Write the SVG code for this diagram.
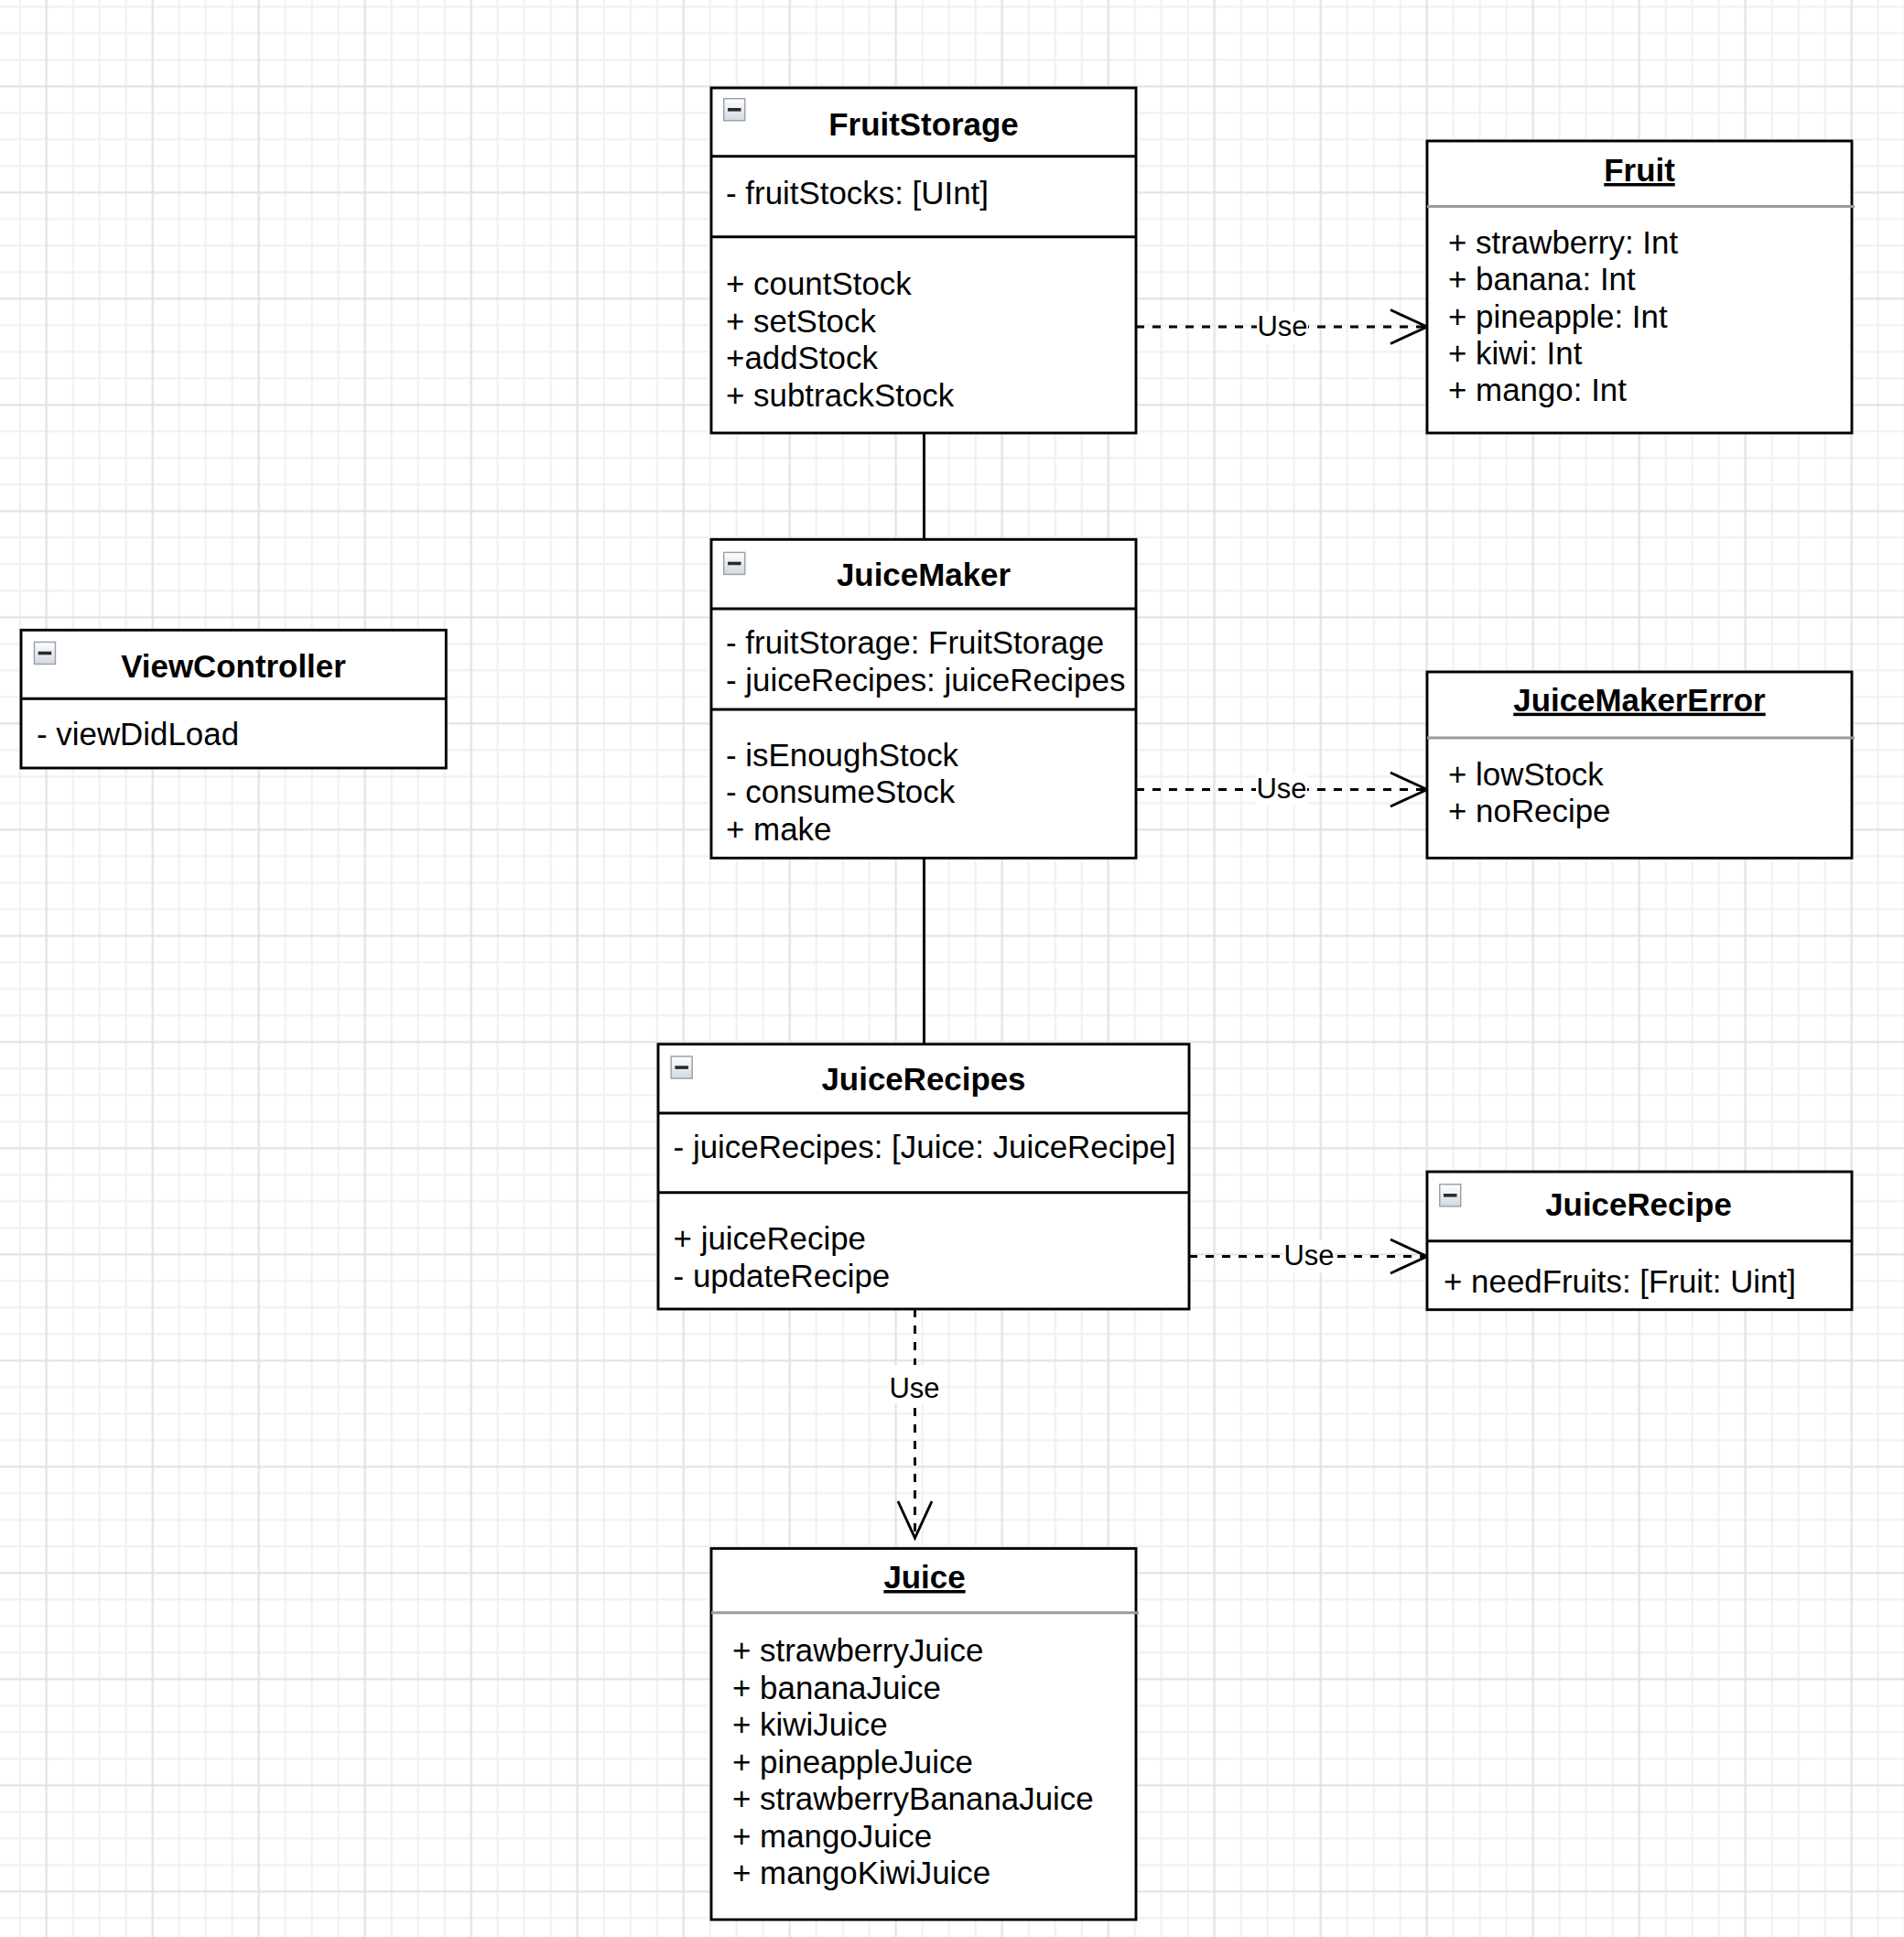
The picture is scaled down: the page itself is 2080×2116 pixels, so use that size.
<svg xmlns="http://www.w3.org/2000/svg" width="2080" height="2116" viewBox="0 0 2080 2116">
<style>
.box{fill:#fff;stroke:#000;stroke-width:2.9}
.div{stroke:#000;stroke-width:2.9}
.gdiv{stroke:#9b9b9b;stroke-width:3}
.t{font-family:"Liberation Sans",Arial,Helvetica,sans-serif;font-size:34.9px;fill:#000}
.b{font-weight:bold;text-anchor:middle}
.u{text-decoration:underline}
.edge{fill:none;stroke:#000;stroke-width:2.9}
.dash{stroke-dasharray:9 9}
.lbl{font-family:"Liberation Sans",Arial,Helvetica,sans-serif;font-size:31px;text-anchor:middle;fill:#000}
.lblbg{fill:#fff}
</style>
<defs>
<pattern id="grid" patternUnits="userSpaceOnUse" x="36.2" y="79.8" width="116" height="116">
<path d="M43.5 0V116M72.5 0V116M101.5 0V116M0 43.5H116M0 72.5H116M0 101.5H116" stroke="#efefef" stroke-width="2" fill="none"/>
<path d="M14.5 0V116M0 14.5H116" stroke="#e0e0e0" stroke-width="2" fill="none"/>
</pattern>
<linearGradient id="icg" x1="0" y1="0" x2="0" y2="1">
<stop offset="0" stop-color="#ffffff"/>
<stop offset="1" stop-color="#d3d9e0"/>
</linearGradient>
<g id="collapse">
<rect x="0.75" y="0.75" width="23" height="24" fill="url(#icg)" stroke="#9aa4b0" stroke-width="1.5"/>
<rect x="5" y="11" width="14.5" height="3.6" fill="#2b2b2b"/>
</g>
<marker id="open" markerUnits="userSpaceOnUse" viewBox="-44 -22 48 44" markerWidth="48" markerHeight="44" refX="0" refY="0" orient="auto">
<path d="M-40,-18.5 L0,0 L-40,18.5" fill="none" stroke="#000" stroke-width="2.9"/>
</marker>
</defs>
<rect x="0" y="0" width="2080" height="2116" fill="#fff"/>
<rect x="0" y="0" width="2080" height="2116" fill="url(#grid)"/>

<g id="connectors">
<line class="edge" x1="1009.5" y1="473" x2="1009.5" y2="589"/>
<line class="edge" x1="1009.5" y1="937" x2="1009.5" y2="1141"/>
<line class="edge dash" x1="1241" y1="357" x2="1559" y2="357" marker-end="url(#open)"/>
<line class="edge dash" x1="1241" y1="862.5" x2="1559" y2="862.5" marker-end="url(#open)"/>
<line class="edge dash" x1="1299" y1="1372.5" x2="1559" y2="1372.5" marker-end="url(#open)"/>
<line class="edge dash" x1="999.5" y1="1430" x2="999.5" y2="1680" marker-end="url(#open)"/>
<rect class="lblbg" x="1373" y="340" width="56" height="35"/>
<text class="lbl" x="1401" y="367">Use</text>
<rect class="lblbg" x="1372" y="845" width="56" height="35"/>
<text class="lbl" x="1400" y="872">Use</text>
<rect class="lblbg" x="1402" y="1355" width="56" height="35"/>
<text class="lbl" x="1430" y="1382">Use</text>
<rect class="lblbg" x="969" y="1491" width="60" height="42"/>
<text class="lbl" x="999" y="1527">Use</text>
</g>

<g id="FruitStorage">
<rect class="box" x="777" y="96" width="464" height="377"/>
<line class="div" x1="777" y1="170.7" x2="1241" y2="170.7"/>
<line class="div" x1="777" y1="258.7" x2="1241" y2="258.7"/>
<use href="#collapse" x="790" y="107"/>
<text class="t b" x="1009" y="148.3">FruitStorage</text>
<text class="t" x="793" y="222.7">- fruitStocks: [UInt]</text>
<text class="t" x="793" y="322">+ countStock</text>
<text class="t" x="793" y="362.5">+ setStock</text>
<text class="t" x="793" y="403">+addStock</text>
<text class="t" x="793" y="443.5">+ subtrackStock</text>
</g>

<g id="Fruit">
<rect class="box" x="1559" y="154" width="464" height="319"/>
<line class="gdiv" x1="1559" y1="225.5" x2="2026" y2="225.5"/>
<text class="t b u" x="1791" y="198">Fruit</text>
<text class="t" x="1582" y="277">+ strawberry: Int</text>
<text class="t" x="1582" y="317">+ banana: Int</text>
<text class="t" x="1582" y="358">+ pineapple: Int</text>
<text class="t" x="1582" y="398">+ kiwi: Int</text>
<text class="t" x="1582" y="438">+ mango: Int</text>
</g>

<g id="ViewController">
<rect class="box" x="23" y="688.3" width="464.3" height="150.7"/>
<line class="div" x1="23" y1="763.3" x2="487.3" y2="763.3"/>
<use href="#collapse" x="36.7" y="700.7"/>
<text class="t b" x="255" y="740">ViewController</text>
<text class="t" x="40" y="814">- viewDidLoad</text>
</g>

<g id="JuiceMaker">
<rect class="box" x="777" y="589.3" width="464" height="348"/>
<line class="div" x1="777" y1="665" x2="1241" y2="665"/>
<line class="div" x1="777" y1="775" x2="1241" y2="775"/>
<use href="#collapse" x="790" y="602.7"/>
<text class="t b" x="1009" y="640">JuiceMaker</text>
<text class="t" x="793" y="714">- fruitStorage: FruitStorage</text>
<text class="t" x="793" y="754.5">- juiceRecipes: juiceRecipes</text>
<text class="t" x="793" y="836.7">- isEnoughStock</text>
<text class="t" x="793" y="877.3">- consumeStock</text>
<text class="t" x="793" y="917.5">+ make</text>
</g>

<g id="JuiceMakerError">
<rect class="box" x="1559" y="734" width="464" height="203.3"/>
<line class="gdiv" x1="1559" y1="806" x2="2026" y2="806"/>
<text class="t b u" x="1791" y="776.7">JuiceMakerError</text>
<text class="t" x="1582" y="858.3">+ lowStock</text>
<text class="t" x="1582" y="898">+ noRecipe</text>
</g>

<g id="JuiceRecipes">
<rect class="box" x="719" y="1140.7" width="580" height="289.3"/>
<line class="div" x1="719" y1="1216" x2="1299" y2="1216"/>
<line class="div" x1="719" y1="1302.7" x2="1299" y2="1302.7"/>
<use href="#collapse" x="732.4" y="1153.3"/>
<text class="t b" x="1009" y="1190.7">JuiceRecipes</text>
<text class="t" x="735.6" y="1265">- juiceRecipes: [Juice: JuiceRecipe]</text>
<text class="t" x="735.6" y="1365">+ juiceRecipe</text>
<text class="t" x="735.6" y="1405.5">- updateRecipe</text>
</g>

<g id="JuiceRecipe">
<rect class="box" x="1559" y="1280" width="464" height="150.7"/>
<line class="div" x1="1559" y1="1355.7" x2="2023" y2="1355.7"/>
<use href="#collapse" x="1572" y="1293"/>
<text class="t b" x="1790" y="1328.3">JuiceRecipe</text>
<text class="t" x="1577" y="1411.7">+ needFruits: [Fruit: Uint]</text>
</g>

<g id="Juice">
<rect class="box" x="777" y="1691.6" width="464" height="405.4"/>
<line class="gdiv" x1="777" y1="1761.8" x2="1244" y2="1761.8"/>
<text class="t b u" x="1010" y="1735">Juice</text>
<text class="t" x="800" y="1815">+ strawberryJuice</text>
<text class="t" x="800" y="1855.5">+ bananaJuice</text>
<text class="t" x="800" y="1896">+ kiwiJuice</text>
<text class="t" x="800" y="1936.5">+ pineappleJuice</text>
<text class="t" x="800" y="1977">+ strawberryBananaJuice</text>
<text class="t" x="800" y="2017.5">+ mangoJuice</text>
<text class="t" x="800" y="2058">+ mangoKiwiJuice</text>
</g>
</svg>
